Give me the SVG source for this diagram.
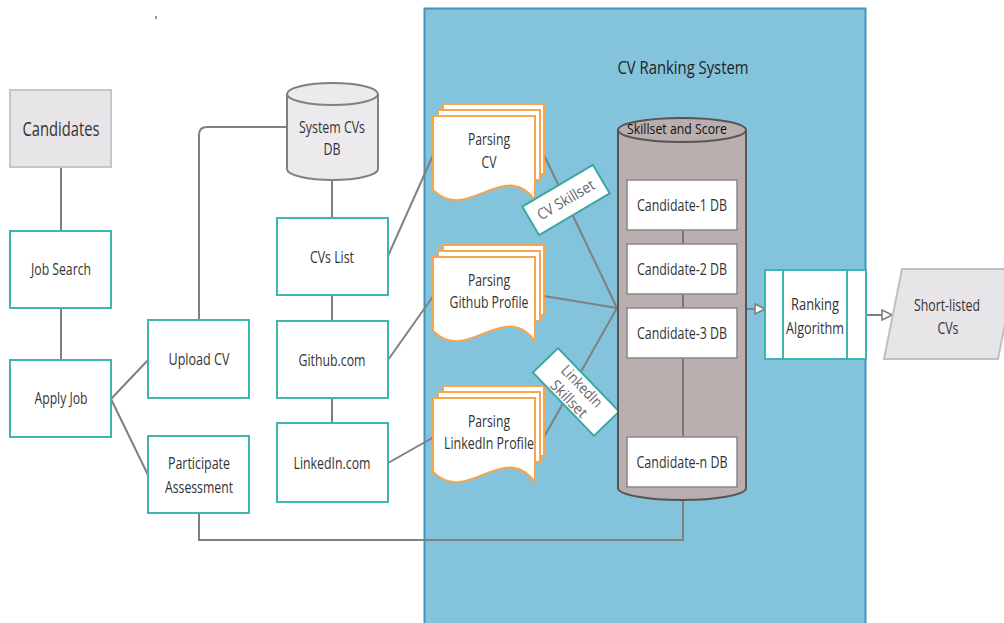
<svg xmlns="http://www.w3.org/2000/svg" width="1004" height="623" viewBox="0 0 1004 623">
<defs>
<style>
text{font-family:"Open Sans","Liberation Sans",sans-serif;fill:#333;text-anchor:middle;font-size:16px}
.box{fill:#fff;stroke:#3fb5b0;stroke-width:2}
.conn{fill:none;stroke:#808080;stroke-width:2}
.doc{fill:#fff;stroke:#f6a54c;stroke-width:2}
.cand{fill:#fff;stroke:#8a8686;stroke-width:1.5}
.lbl{fill:#fff;stroke:#3aa9a4;stroke-width:2}
.lt{fill:#666;font-size:15px}
</style>
<marker id="arr" viewBox="0 0 12 12" refX="11" refY="6" markerWidth="12" markerHeight="12" markerUnits="userSpaceOnUse" orient="auto">
<path d="M1,1 L11,6 L1,11 Z" fill="#fff" stroke="#808080" stroke-width="1.6"/>
</marker>
<path id="docF" d="M0,0 H102 V84 C70,42 35,108 0,74 Z"/>
</defs>
<rect width="1004" height="623" fill="#fff"/>
<rect x="155" y="16" width="2" height="3" fill="#999"/>

<g id="cv-ranking-system">
<rect x="424.5" y="8.5" width="441" height="618" fill="#84c3dc" stroke="#3f97bd" stroke-width="2"/>
<text x="683" y="74" textLength="131" lengthAdjust="spacingAndGlyphs" style="font-size:19px;fill:#222">CV Ranking System</text>
</g>

<g id="connectors">
<path class="conn" d="M61,167 V231"/>
<path class="conn" d="M61,308 V360"/>
<path class="conn" d="M111,399 L148,360"/>
<path class="conn" d="M111,399 L148,475"/>
<path class="conn" d="M199,320 V135 Q199,127 207,127 H287"/>
<path class="conn" d="M332,180 V218"/>
<path class="conn" d="M332,295 V321"/>
<path class="conn" d="M332,398 V423"/>
<path class="conn" d="M388,256 L434,153"/>
<path class="conn" d="M388,360 L434,295"/>
<path class="conn" d="M388,463 L434,437"/>
<path class="conn" d="M544,155 L617,308"/>
<path class="conn" d="M544,296 L617,308"/>
<path class="conn" d="M544,437 L617,308"/>
<path class="conn" d="M199,513 V540 H683 V500"/>
<path class="conn" d="M746,309 H765" marker-end="url(#arr)"/>
<path class="conn" d="M866,315 H892" marker-end="url(#arr)"/>
</g>

<g id="candidates">
<rect x="10" y="90" width="101" height="77" fill="#e8e5e9" stroke="#c8c5c8" stroke-width="2"/>
<text x="61" y="136" textLength="77" lengthAdjust="spacingAndGlyphs" style="font-size:20px">Candidates</text>
</g>
<g id="job-search">
<rect class="box" x="10" y="231" width="101" height="77"/>
<text x="61" y="275" textLength="60" lengthAdjust="spacingAndGlyphs">Job Search</text>
</g>
<g id="apply-job">
<rect class="box" x="10" y="360" width="101" height="77"/>
<text x="61" y="404" textLength="53" lengthAdjust="spacingAndGlyphs">Apply Job</text>
</g>
<g id="upload-cv">
<rect class="box" x="148" y="320" width="101" height="78"/>
<text x="199" y="365" textLength="61" lengthAdjust="spacingAndGlyphs">Upload CV</text>
</g>
<g id="participate-assessment">
<rect class="box" x="148" y="436" width="101" height="77"/>
<text x="199" y="469" textLength="62" lengthAdjust="spacingAndGlyphs">Participate</text>
<text x="199" y="493" textLength="68" lengthAdjust="spacingAndGlyphs">Assessment</text>
</g>

<g id="system-cvs-db">
<path d="M287,94 V169 A45.5,11 0 0 0 378,169 V94 Z" fill="#eceaed" stroke="#808080" stroke-width="2"/>
<ellipse cx="332.5" cy="94" rx="45.5" ry="11" fill="#eceaed" stroke="#808080" stroke-width="2"/>
<text x="332" y="133" textLength="66" lengthAdjust="spacingAndGlyphs">System CVs</text>
<text x="332" y="155" textLength="17" lengthAdjust="spacingAndGlyphs">DB</text>
</g>
<g id="cvs-list">
<rect class="box" x="277" y="218" width="111" height="77"/>
<text x="332" y="263" textLength="44" lengthAdjust="spacingAndGlyphs">CVs List</text>
</g>
<g id="github-com">
<rect class="box" x="277" y="321" width="111" height="77"/>
<text x="332" y="366" textLength="67" lengthAdjust="spacingAndGlyphs">Github.com</text>
</g>
<g id="linkedin-com">
<rect class="box" x="277" y="423" width="111" height="79"/>
<text x="332" y="469" textLength="77" lengthAdjust="spacingAndGlyphs">LinkedIn.com</text>
</g>

<g id="parsing-cv" transform="translate(433,116)">
<rect class="doc" x="10" y="-12" width="101" height="70"/>
<rect class="doc" x="5" y="-6" width="102" height="70"/>
<use href="#docF" class="doc"/>
</g>
<g id="parsing-cv-text">
<text x="489" y="145" textLength="42" lengthAdjust="spacingAndGlyphs">Parsing</text>
<text x="489" y="168" textLength="15" lengthAdjust="spacingAndGlyphs">CV</text>
</g>
<g id="parsing-github" transform="translate(433,257)">
<rect class="doc" x="10" y="-12" width="101" height="70"/>
<rect class="doc" x="5" y="-6" width="102" height="70"/>
<use href="#docF" class="doc"/>
</g>
<g id="parsing-github-text">
<text x="489" y="286" textLength="42" lengthAdjust="spacingAndGlyphs">Parsing</text>
<text x="489" y="308" textLength="79" lengthAdjust="spacingAndGlyphs">Github Profile</text>
</g>
<g id="parsing-linkedin" transform="translate(433,398)">
<rect class="doc" x="10" y="-12" width="101" height="70"/>
<rect class="doc" x="5" y="-6" width="102" height="70"/>
<use href="#docF" class="doc"/>
</g>
<g id="parsing-linkedin-text">
<text x="489" y="427" textLength="42" lengthAdjust="spacingAndGlyphs">Parsing</text>
<text x="489" y="449" textLength="90" lengthAdjust="spacingAndGlyphs">LinkedIn Profile</text>
</g>

<g id="cv-skillset-label" transform="translate(566,200) rotate(-30.6)">
<rect class="lbl" x="-41" y="-16.5" width="82" height="33"/>
<text class="lt" x="0" y="5" textLength="64" lengthAdjust="spacingAndGlyphs">CV Skillset</text>
</g>
<g id="linkedin-skillset-label" transform="translate(576,392) rotate(46)">
<rect class="lbl" x="-44" y="-17.5" width="88" height="35"/>
<text class="lt" x="0" y="-3" textLength="52" lengthAdjust="spacingAndGlyphs">LinkedIn</text>
<text class="lt" x="0" y="15" textLength="46" lengthAdjust="spacingAndGlyphs">Skillset</text>
</g>

<g id="skillset-and-score">
<path d="M618,130 V488 A64,12 0 0 0 746,488 V130 Z" fill="#b9afaf" stroke="#555" stroke-width="2"/>
<ellipse cx="682" cy="130" rx="64" ry="12" fill="#b9afaf" stroke="#555" stroke-width="2"/>
<path d="M683,230 V437" stroke="#6a6464" stroke-width="1.5"/>
<text x="677" y="134" textLength="100" lengthAdjust="spacingAndGlyphs" style="font-size:15px;fill:#111">Skillset and Score</text>
</g>
<g id="candidate-1-db">
<rect class="cand" x="627" y="180" width="110" height="50"/>
<text x="682" y="211" textLength="90" lengthAdjust="spacingAndGlyphs">Candidate-1 DB</text>
</g>
<g id="candidate-2-db">
<rect class="cand" x="627" y="244" width="110" height="50"/>
<text x="682" y="275" textLength="90" lengthAdjust="spacingAndGlyphs">Candidate-2 DB</text>
</g>
<g id="candidate-3-db">
<rect class="cand" x="627" y="308" width="110" height="50"/>
<text x="682" y="339" textLength="90" lengthAdjust="spacingAndGlyphs">Candidate-3 DB</text>
</g>
<g id="candidate-n-db">
<rect class="cand" x="627" y="437" width="110" height="50"/>
<text x="682" y="468" textLength="91" lengthAdjust="spacingAndGlyphs">Candidate-n DB</text>
</g>

<g id="ranking-algorithm">
<rect class="box" x="765" y="270" width="101" height="89"/>
<path d="M783,270 V359 M847,270 V359" stroke="#3fb5b0" stroke-width="2"/>
<text x="815" y="310" textLength="48" lengthAdjust="spacingAndGlyphs">Ranking</text>
<text x="815" y="334" textLength="58" lengthAdjust="spacingAndGlyphs">Algorithm</text>
</g>
<g id="short-listed-cvs">
<path d="M902,269 H1016 L998,359 H884 Z" fill="#e8e5e9" stroke="#c2bec2" stroke-width="2"/>
<text x="947" y="311" textLength="66" lengthAdjust="spacingAndGlyphs">Short-listed</text>
<text x="948" y="334" textLength="21" lengthAdjust="spacingAndGlyphs">CVs</text>
</g>
</svg>
